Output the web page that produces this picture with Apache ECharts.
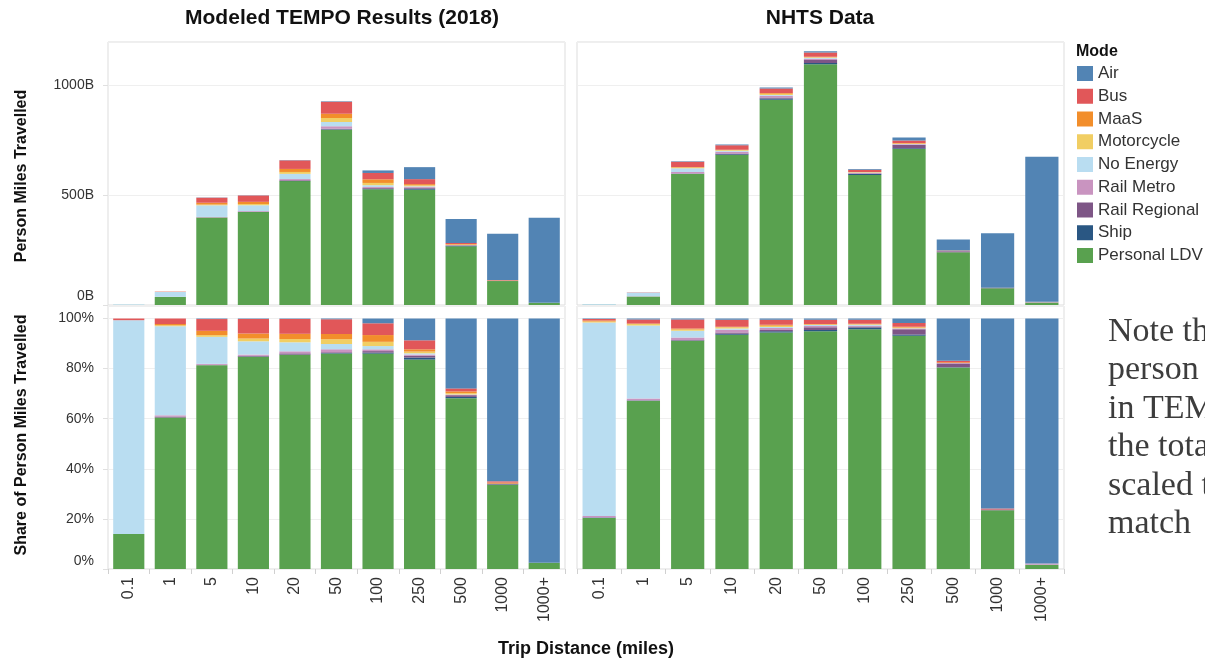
<!DOCTYPE html>
<html>
<head>
<meta charset="utf-8">
<script src="https://cdn.jsdelivr.net/npm/echarts@6/dist/echarts.min.js"></script>
<style>
html, body { margin: 0; padding: 0; background: #fff; }
#main { width: 1205px; height: 658px; }
</style>
</head>
<body>
<div id="main"></div>
<script>
// trip distance bins
var distances = ['0.1', '1', '5', '10', '20', '50', '100', '250', '500', '1000', '1000+'];

// stacking order, bottom to top
var modes = ['Personal LDV', 'Ship', 'Rail Regional', 'Rail Metro', 'No Energy', 'Motorcycle', 'MaaS', 'Bus', 'Air'];
var modeColors = ['#59a14f', '#2a5783', '#7e5686', '#c994c0', '#b9ddf1', '#f1ce63', '#f28e2b', '#e15759', '#5284b4'];
var legendOrder = ['Air', 'Bus', 'MaaS', 'Motorcycle', 'No Energy', 'Rail Metro', 'Rail Regional', 'Ship', 'Personal LDV'];

// TEMPO (2018) person miles travelled, billions
var tempoLdv          = [0.42, 36.9, 398.0, 422.7, 563.4, 797.2, 526.3, 524.2, 266.7, 108.9, 9.9];
var tempoShip         = [0, 0, 0, 0.5, 0.7, 1.9, 2.4, 5.0, 2.0, 0.6, 0];
var tempoRailRegional = [0, 0.24, 0.5, 1.5, 3.3, 2.8, 3.7, 4.4, 2.7, 1.0, 0];
var tempoRailMetro    = [0, 0.3, 2.0, 2.5, 5.3, 11.1, 4.3, 3.1, 0.8, 0, 0];
var tempoNoEnergy     = [2.56, 21.7, 52.8, 26.4, 23.7, 19.5, 8.0, 3.1, 0.4, 0, 0];
var tempoMotorcycle   = [0, 0.24, 3.4, 5.5, 8.6, 17.6, 10.4, 4.4, 2.0, 0, 0];
var tempoMaas         = [0, 0.3, 8.3, 10.0, 13.8, 19.5, 16.5, 5.6, 2.7, 1.3, 0];
var tempoBus          = [0.02, 1.34, 23.0, 28.9, 38.9, 54.7, 28.8, 22.6, 4.7, 1.6, 0];
var tempoAir          = [0, 0, 1.0, 1.0, 1.3, 2.8, 11.6, 54.5, 109.1, 210.6, 387.1];

// NHTS person miles travelled, billions
var nhtsLdv          = [1.02, 39.0, 595.8, 682.6, 933.6, 1095.1, 591.4, 709.4, 239.9, 76.6, 11.5];
var nhtsShip         = [0.01, 0.06, 0.7, 2.9, 4.9, 5.8, 4.3, 3.8, 0.3, 0, 0];
var nhtsRailRegional = [0, 0.06, 1.3, 3.7, 4.9, 12.7, 2.5, 16.0, 4.5, 1.0, 0];
var nhtsRailMetro    = [0.03, 0.4, 6.5, 8.0, 7.9, 5.8, 1.9, 2.3, 0.6, 0, 3.4];
var nhtsNoEnergy     = [3.87, 16.9, 17.7, 3.7, 4.0, 4.6, 2.5, 0.8, 0, 0, 0];
var nhtsMotorcycle   = [0.02, 0.35, 3.3, 3.7, 4.9, 2.3, 1.2, 2.3, 0, 0, 0];
var nhtsMaas         = [0.02, 0.12, 2.6, 1.5, 4.0, 2.3, 1.2, 2.3, 0.9, 0, 0];
var nhtsBus          = [0.03, 0.93, 23.5, 20.4, 19.8, 19.6, 9.9, 11.4, 1.5, 1.3, 0];
var nhtsAir          = [0.01, 0.23, 2.6, 3.7, 4.9, 5.8, 3.1, 13.7, 50.4, 247.1, 659.2];

var noteLines = ['Note that', 'person miles', 'in TEMPO', 'the total', 'scaled to', 'match'];

var tempoByMode = [tempoLdv, tempoShip, tempoRailRegional, tempoRailMetro, tempoNoEnergy, tempoMotorcycle, tempoMaas, tempoBus, tempoAir];
var nhtsByMode = [nhtsLdv, nhtsShip, nhtsRailRegional, nhtsRailMetro, nhtsNoEnergy, nhtsMotorcycle, nhtsMaas, nhtsBus, nhtsAir];

var FONT = "'Liberation Sans', Arial, sans-serif";
var chart = echarts.init(document.getElementById('main'));

function binTotals(list) {
	return distances.map(function (d, i) {
		var s = 0;
		list.forEach(function (arr) { s += arr[i]; });
		return s;
	});
}

// one stacked bar series per mode; bottom panels show the share of each bin
function addSeries(series, list, idx, asShare) {
	var tot = binTotals(list);
	list.forEach(function (arr, m) {
		series.push({
			name: modes[m],
			type: 'bar',
			xAxisIndex: idx,
			yAxisIndex: idx,
			stack: 'panel' + idx,
			barCategoryGap: '25%',
			itemStyle: { color: modeColors[m] },
			emphasis: { disabled: true },
			data: arr.map(function (v, i) { return asShare ? v / tot[i] * 100 : v; })
		});
	});
}

var series = [];
addSeries(series, tempoByMode, 0, false);
addSeries(series, nhtsByMode, 1, false);
addSeries(series, tempoByMode, 2, true);
addSeries(series, nhtsByMode, 3, true);

var grids = [
	{ left: 108, top: 42, width: 457, height: 263 },
	{ left: 577, top: 42, width: 487, height: 263 },
	{ left: 108, top: 306, width: 457, height: 263 },
	{ left: 577, top: 306, width: 487, height: 263 }
].map(function (g) {
	g.show = true;
	g.borderColor = '#dddddd';
	g.borderWidth = 1;
	return g;
});

var xAxes = grids.map(function (g, i) {
	var bottom = i >= 2;
	return {
		type: 'category',
		gridIndex: i,
		data: distances,
		axisLine: { show: false },
		axisTick: { show: bottom, length: 5, lineStyle: { color: '#d0d0d0' } },
		axisLabel: { show: bottom, rotate: 90, fontSize: 16, color: '#333', margin: 8, fontFamily: FONT }
	};
});

var splitLine = { show: true, lineStyle: { color: '#efefef' } };
var yAxes = [
	{
		type: 'value', gridIndex: 0, min: 0, max: 1196, interval: 500,
		splitLine: splitLine,
		axisLine: { show: false },
		axisTick: { show: true, length: 5, lineStyle: { color: '#e0e0e0' } },
		axisLabel: {
			showMaxLabel: false, fontSize: 14, color: '#333', margin: 14, fontFamily: FONT,
			formatter: function (v) { return v === 0 ? '{z|0B}' : v + 'B'; },
			rich: { z: { fontSize: 14, color: '#333', fontFamily: FONT, padding: [0, 0, 18, 0] } }
		}
	},
	{
		type: 'value', gridIndex: 1, min: 0, max: 1196, interval: 500,
		splitLine: splitLine, axisLine: { show: false }, axisTick: { show: false }, axisLabel: { show: false }
	},
	{
		type: 'value', gridIndex: 2, min: 0, max: 105, interval: 20,
		splitLine: splitLine,
		axisLine: { show: false },
		axisTick: { show: true, length: 5, lineStyle: { color: '#e0e0e0' } },
		axisLabel: {
			showMaxLabel: false, fontSize: 14, color: '#333', margin: 14, fontFamily: FONT,
			formatter: function (v) { return v === 0 ? '{z|0%}' : v + '%'; },
			rich: { z: { fontSize: 14, color: '#333', fontFamily: FONT, padding: [0, 0, 16, 0] } }
		}
	},
	{
		type: 'value', gridIndex: 3, min: 0, max: 105, interval: 20,
		splitLine: splitLine, axisLine: { show: false }, axisTick: { show: false }, axisLabel: { show: false }
	}
];

var graphics = [
	{ type: 'text', x: 342, y: 18, style: { text: 'Modeled TEMPO Results (2018)', font: 'bold 21px ' + FONT, fill: '#111', align: 'center', verticalAlign: 'middle' } },
	{ type: 'text', x: 820, y: 18, style: { text: 'NHTS Data', font: 'bold 21px ' + FONT, fill: '#111', align: 'center', verticalAlign: 'middle' } },
	{ type: 'text', x: 22, y: 176, rotation: Math.PI / 2, style: { text: 'Person Miles Travelled', font: 'bold 16px ' + FONT, fill: '#111', align: 'center', verticalAlign: 'middle' } },
	{ type: 'text', x: 22, y: 435, rotation: Math.PI / 2, style: { text: 'Share of Person Miles Travelled', font: 'bold 16px ' + FONT, fill: '#111', align: 'center', verticalAlign: 'middle' } },
	{ type: 'text', x: 586, y: 649, style: { text: 'Trip Distance (miles)', font: 'bold 18px ' + FONT, fill: '#111', align: 'center', verticalAlign: 'middle' } },
	{ type: 'text', x: 1076, y: 52, style: { text: 'Mode', font: 'bold 16px ' + FONT, fill: '#111', align: 'left', verticalAlign: 'middle' } }
];
noteLines.forEach(function (line, i) {
	graphics.push({
		type: 'text', x: 1108, y: 332 + i * 38.5,
		style: { text: line, font: "34px 'Liberation Serif', 'Times New Roman', serif", fill: '#3d3d3d', align: 'left', verticalAlign: 'middle' }
	});
});

chart.setOption({
	animation: false,
	textStyle: { fontFamily: FONT },
	grid: grids,
	xAxis: xAxes,
	yAxis: yAxes,
	legend: {
		data: legendOrder,
		orient: 'vertical',
		left: 1072,
		top: 60,
		icon: 'rect',
		itemWidth: 16,
		itemHeight: 15,
		itemGap: 5.75,
		selectedMode: false,
		textStyle: { fontSize: 17, color: '#333', fontFamily: FONT }
	},
	graphic: graphics,
	series: series
});
</script>
</body>
</html>
